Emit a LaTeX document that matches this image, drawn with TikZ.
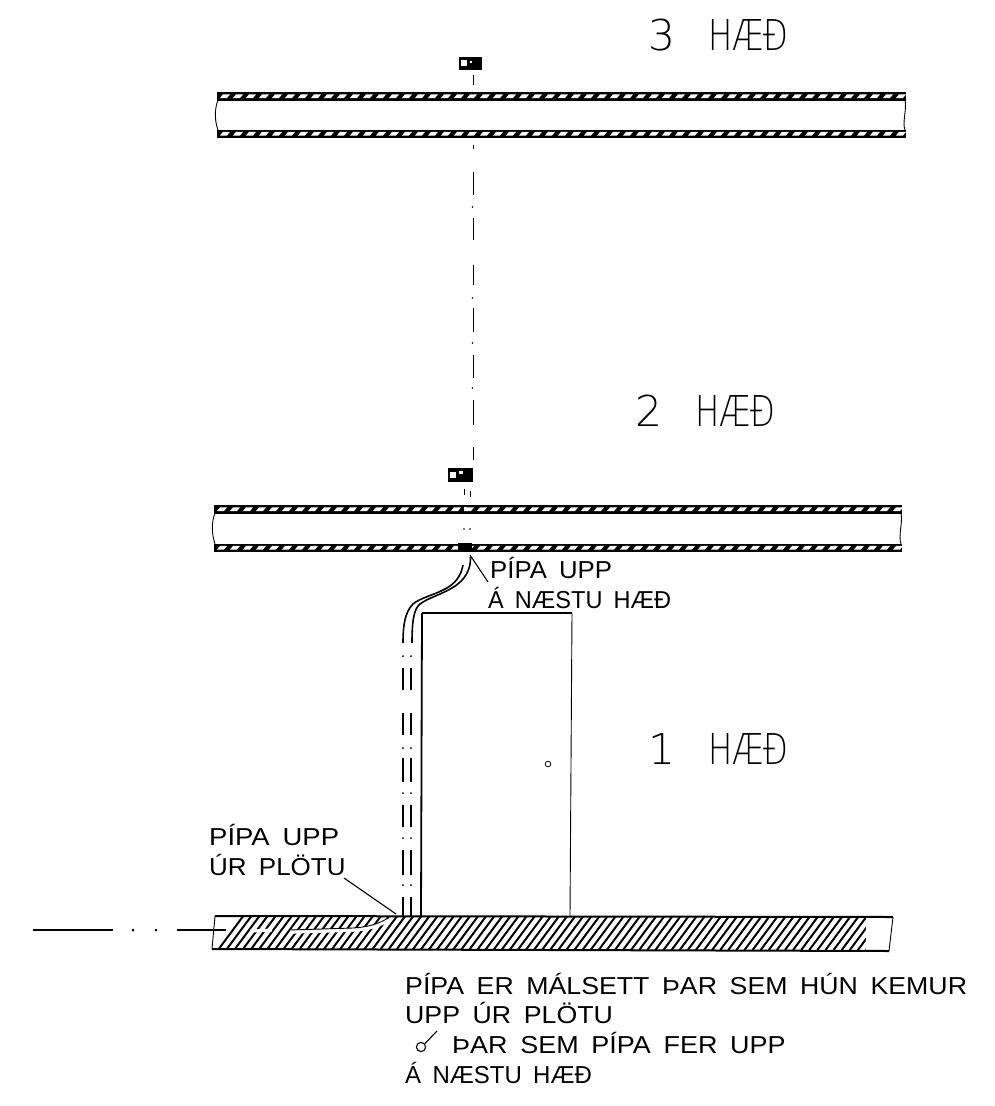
\documentclass[tikz,border=0pt]{standalone}
\usepackage{fontspec}
\setmainfont{Liberation Sans}[WordSpace=1.7]
\newfontfamily\bigfont{DejaVu Sans}[UprightFont=* ExtraLight]
\newcommand{\slabband}[3]{% x1, x2, ytop
  \fill[black] (#1,#3) rectangle (#2,#3+8.5);
  \foreach \k in {0,...,52}{
    \fill[white] ({#1+3+\k*13},#3+6) -- ({#1+10+\k*13},#3+6) -- ({#1+13+\k*13},#3+2.4) -- ({#1+6+\k*13},#3+2.4) -- cycle;
  }
}
\newcommand{\sx}[2]{\scalebox{#1}[1]{#2}}
\tikzset{
  smalltext/.style={anchor=base west,inner sep=0pt,font=\fontsize{24.5}{24.5}\selectfont},
  bigtext/.style={anchor=base west,inner sep=0pt,font=\bigfont\fontsize{42.5}{42.5}\selectfont},
  thin line/.style={line width=0.9pt,black},
  pipe/.style={line width=1.6pt,black},
  leader/.style={line width=1.1pt,black}
}
\begin{document}
\begin{tikzpicture}[x=1pt,y=-1pt]
\useasboundingbox (0,0) rectangle (994,1106);
% slab 3
\begin{scope}
\clip (217,85) rectangle (906,145);
\slabband{217}{906}{92}
\slabband{217}{906}{129.5}
\end{scope}
\draw[thin line] (218,100) .. controls (214,110) and (215,122) .. (218,130);
\draw[thin line] (905,100) .. controls (907,110) and (902,122) .. (905,130);
% slab 2
\begin{scope}
\clip (214,498) rectangle (902,560);
\slabband{214}{902}{505}
\slabband{214}{902}{543.5}
\end{scope}
\draw[thin line] (215,513) .. controls (211,523) and (212,535) .. (215,544);
\draw[thin line] (901,513) .. controls (903,523) and (898,535) .. (901,544);
% markers
\fill[black] (459,57) rectangle (482,70);
\fill[white] (461,60) rectangle (467,66);
\fill[white] (470,61) rectangle (472,63);
\fill[black] (448,468) rectangle (473,482);
\fill[white] (450,472) rectangle (456,478);
\fill[white] (459,471) rectangle (463,474);
% center line
\foreach \a/\b in {75/85,145/149,172/195,218/240,265/285,308/332,355/378,400/425,447/460}{
  \draw[thin line] (473,\a) -- (473,\b);
}
\foreach \a in {207,298,343,388}{
  \fill (472.5,\a) circle (0.9);
}
\draw[thin line] (464,489) -- (464,495);
\draw[thin line] (470,491) -- (470,497);
\fill[white] (463.5,507) rectangle (466.5,511);
\fill (464,529) circle (0.9);
\fill (470,529) circle (0.9);
\fill[black] (458,543) rectangle (472,552);
% bottom slab
\begin{scope}
\clip (215,916) -- (893,917) -- (889,951) -- (212,949) -- cycle;
\foreach \k in {0,...,80}{
  \draw[line width=2pt] ({218+\k*8.1},950) -- ({244+\k*8.1},915);
}
\fill[white] (866,915) rectangle (895,955);
\end{scope}
\draw[line width=2pt] (215,916) -- (893,917);
\draw[line width=2pt] (212,949) -- (889,951);
\draw[thin line] (215,916) -- (212,949);
\draw[thin line] (893,917) -- (889,951);
\draw[white,line width=3.5pt] (290,932) -- (353,930) .. controls (370,929) and (380,925) .. (388,920);
\draw[line width=0.9pt] (290,930) -- (353,928) .. controls (370,927) and (380,923) .. (388,918);
\draw[white,line width=3pt] (250,931) -- (272,930);
% arrow line
\draw[line width=2pt] (33,930) -- (113,930);
\fill (133,930) circle (1.5);
\fill (156,930) circle (1.5);
\draw[line width=2pt] (177,930) -- (226,930);
% door
\draw[line width=1.2pt] (422,613) -- (572,613);
\draw[line width=1.8pt] (422,613) -- (421,916);
\draw[line width=0.9pt] (572,613) -- (570,916);
\draw[line width=0.8pt] (548,764) circle (2.8);
% pipes
\draw[pipe] (470.5,557) .. controls (471,568) and (466,580) .. (452,588) .. controls (440,595) and (428,598) .. (420,604) .. controls (414,609) and (412,620) .. (412,643);
\draw[pipe] (463,565) .. controls (461,576) and (455,584) .. (445,589) .. controls (434,595) and (420,598) .. (413,604) .. controls (405,612) and (403,625) .. (403,643);
\foreach \a/\b in {668/690,713/735,758/782,805/827,850/875,897/916}{
  \draw[pipe] (403,\a) -- (403,\b);
  \draw[line width=2.2pt] (411,\a) -- (411,\b);
}
\foreach \a in {656,748,793,838,885}{
  \fill (403,\a) circle (1);
  \fill (411,\a) circle (1);
}
% labels
\node[bigtext] (f3) at (648,50) {3\hspace{33pt}\sx{0.76}{HÆÐ}};
\node[bigtext] (f2) at (635,426) {2\hspace{33pt}\sx{0.76}{HÆÐ}};
\node[bigtext] (f1) at (648,764) {1\hspace{33pt}\sx{0.76}{HÆÐ}};
\node[smalltext] (up1) at (490,578) {\sx{1.05}{PÍPA UPP}};
\node[smalltext] (up2) at (488,608) {\sx{0.96}{Á NÆSTU HÆÐ}};
\node[smalltext] (pl1) at (209,845) {\sx{1.12}{PÍPA UPP}};
\node[smalltext] (pl2) at (209,875) {\sx{1.06}{ÚR PLÖTU}};
\node[smalltext] (n1) at (405,994) {\sx{1.09}{PÍPA ER MÁLSETT ÞAR SEM HÚN KEMUR}};
\node[smalltext] (n2) at (405,1023) {\sx{1.09}{UPP ÚR PLÖTU}};
\node[smalltext] (n3) at (452,1053) {\sx{1.10}{ÞAR SEM PÍPA FER UPP}};
\node[smalltext] (n4) at (405,1083) {\sx{0.98}{Á NÆSTU HÆÐ}};
% leaders
\coordinate (a1) at (470,555);
\coordinate (a2) at (488,582);
\draw[leader] (a1) -- (a2);
\coordinate (b1) at (344,878);
\coordinate (b2) at (396,914);
\draw[leader] (b1) -- (b2);
% diameter sign
\draw[line width=1.1pt] (421,1047) circle (4.6);
\draw[line width=1.1pt] (425,1043.5) -- (437,1031);
\end{tikzpicture}
\end{document}
